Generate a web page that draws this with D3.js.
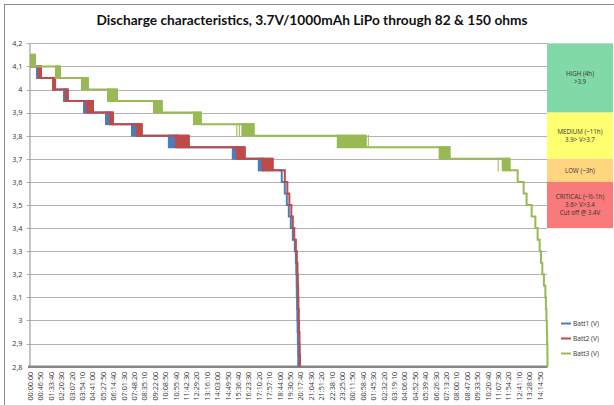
<!DOCTYPE html>
<html><head><meta charset="utf-8">
<script src="https://cdn.jsdelivr.net/npm/d3@7"></script>
<style>body{margin:0;background:#fff}svg{display:block}</style>
</head><body><svg id="c" width="614" height="405"></svg>
<script>
const title = "Discharge characteristics, 3.7V/1000mAh LiPo through 82 & 150 ohms";
const seriesNames = ["Batt1 (V)", "Batt2 (V)", "Batt3 (V)"];
const timeLabels = ["00:00:00","00:46:50","01:33:40","02:20:30","03:07:20","03:54:10","04:41:00","05:27:50","06:14:40","07:01:30","07:48:20","08:35:10","09:22:00","10:08:50","10:55:40","11:42:30","12:29:20","13:16:10","14:03:00","14:49:50","15:36:40","16:23:30","17:10:20","17:57:10","18:44:00","19:30:50","20:17:40","21:04:30","21:51:20","22:38:10","23:25:00","00:11:50","00:58:40","01:45:30","02:32:20","03:19:10","04:06:00","04:52:50","05:39:40","06:26:30","07:13:20","08:00:10","08:47:00","09:33:50","10:20:40","11:07:30","11:54:20","12:41:10","13:28:00","14:14:50"];
const labelStepSeconds = 2810;
const yTicks = [2.8,2.9,3.0,3.1,3.2,3.3,3.4,3.5,3.6,3.7,3.8,3.9,4.0,4.1,4.2];

// [hours, volts] : level reached at that time (step after)
const batt1Steps = [[0,4.10],[0.83,4.05],[1.88,4.00],[2.70,3.95],[4.35,3.90],[6.00,3.85],[8.10,3.80],[11.10,3.75],[15.60,3.70],[17.55,3.65],[18.90,3.60],[19.13,3.55],[19.28,3.50],[19.43,3.45],[19.58,3.40],[19.73,3.35],[19.88,3.30],[19.96,3.25],[19.99,3.20],[20.02,3.15],[20.03,3.10],[20.05,3.05],[20.07,3.00],[20.09,2.95],[20.11,2.90],[20.13,2.85],[20.14,2.80]];
const batt2Steps = [[0,4.10],[0.83,4.05],[1.88,4.00],[2.85,3.95],[4.73,3.90],[6.23,3.85],[8.40,3.80],[11.93,3.75],[16.13,3.70],[18.23,3.65],[19.13,3.60],[19.32,3.55],[19.47,3.50],[19.62,3.45],[19.73,3.40],[19.84,3.35],[19.96,3.30],[20.03,3.25],[20.08,3.20],[20.11,3.15],[20.13,3.10],[20.15,3.05],[20.18,3.00],[20.20,2.95],[20.23,2.90],[20.25,2.85],[20.27,2.80]];
const batt3Steps = [[0,4.15],[0.375,4.10],[2.25,4.05],[4.35,4.00],[6.53,3.95],[9.90,3.90],[12.83,3.85],[16.80,3.80],[25.21,3.75],[31.51,3.70],[36.01,3.65],[36.61,3.60],[37.06,3.55],[37.28,3.50],[37.66,3.45],[37.94,3.40],[38.11,3.35],[38.26,3.30],[38.36,3.25],[38.46,3.20],[38.58,3.15],[38.69,3.10],[38.73,3.05],[38.77,3.00],[38.80,2.95],[38.82,2.90],[38.84,2.85],[38.85,2.80]];

// [startHours, endHours, lowV, highV] : readings toggling between two levels
const batt1Flicker = [[0.45,0.83,4.05,4.10],[1.65,1.88,4.00,4.05],[2.48,2.70,3.95,4.00],[3.98,4.35,3.90,3.95],[5.63,6.00,3.85,3.90],[7.58,8.10,3.80,3.85],[10.35,11.10,3.75,3.80],[15.15,15.60,3.70,3.75],[17.10,17.55,3.65,3.70]];
const batt2Flicker = [[0.60,0.83,4.05,4.10],[1.65,1.88,4.00,4.05],[2.63,2.85,3.95,4.00],[4.20,4.73,3.90,3.95],[5.93,6.23,3.85,3.90],[7.95,8.40,3.80,3.85],[10.88,11.93,3.75,3.80],[15.45,16.13,3.70,3.75],[17.40,18.23,3.65,3.70]];
const batt3Flicker = [[0,0.375,4.10,4.15],[1.875,2.25,4.05,4.10],[3.83,4.35,4.00,4.05],[5.78,6.53,3.95,4.00],[9.23,9.90,3.90,3.95],[12.23,12.83,3.85,3.90],[15.49,15.57,3.80,3.85],[15.68,15.75,3.80,3.85],[15.87,16.80,3.80,3.85],[23.03,25.21,3.75,3.80],[25.36,25.43,3.75,3.80],[30.68,31.51,3.70,3.75],[35.11,35.16,3.65,3.70],[35.41,36.01,3.65,3.70]];

const bandTop = [4.2, 3.9, 3.7, 3.6];
const bandBottom = [3.9, 3.7, 3.6, 3.4];
const bandText = [["HIGH (4h)", ">3.9"], ["MEDIUM (~11h)", "3.9> V>3.7"], ["LOW (~3h)"], ["CRITICAL (~½-1h)", "3.6> V>3.4", "Cut off @ 3.4V"]];

const seriesColors = ["#4a7ebb", "#be4b48", "#98b954"];
const bandColors = ["#82d9a8", "#ffff70", "#ffd580", "#f87a7a"];

const svg = d3.select("#c");
const font = "'Open Sans', 'DejaVu Sans', sans-serif";
const x = d3.scaleLinear().domain([0, 38.85]).range([30, 547.5]);
const y = d3.scaleLinear().domain([2.8, 4.2]).range([366.7, 43.3]);

// outer border
svg.append("rect").attr("x", 4.5).attr("y", 4.5).attr("width", 700).attr("height", 500)
  .attr("fill", "none").attr("stroke", "#8a8a8a").attr("stroke-width", 1);

// title
svg.append("text").attr("x", 312).attr("y", 25).attr("text-anchor", "middle")
  .attr("font-family", "Lato, 'Open Sans', sans-serif").attr("font-weight", "bold").attr("font-size", 14)
  .attr("fill", "#111").attr("textLength", 431).attr("lengthAdjust", "spacingAndGlyphs").text(title);

// bands
const bands = svg.append("g");
bandTop.forEach((t, i) => {
  const y0 = y(t), y1 = y(bandBottom[i]);
  bands.append("rect").attr("x", 547).attr("y", y0).attr("width", 66).attr("height", y1 - y0).attr("fill", bandColors[i]);
  const lines = bandText[i];
  const cy = (y0 + y1) / 2;
  lines.forEach((s, j) => {
    bands.append("text").attr("x", 580).attr("y", cy + (j - (lines.length - 1) / 2) * 7.8)
      .attr("dy", "0.35em").attr("text-anchor", "middle").attr("font-family", font).attr("font-size", 6.2)
      .attr("fill", "#333").text(s);
  });
});

// gridlines
const fmt = d3.formatLocale({decimal: ",", thousands: ".", grouping: [3], currency: ["", ""]}).format("~g");
svg.append("g").selectAll("line").data(yTicks.filter(v => v > 2.8)).join("line")
  .attr("x1", 26.5).attr("x2", 547).attr("y1", d => Math.round(y(d)) + 0.5).attr("y2", d => Math.round(y(d)) + 0.5)
  .attr("stroke", "#b3b3b3").attr("stroke-width", 1);

// y axis
const yAxis = svg.append("g").attr("transform", "translate(29.5,0)")
  .call(d3.axisLeft(y).tickValues(yTicks).tickFormat(fmt).tickSize(0).tickPadding(7));
yAxis.select(".domain").attr("stroke", "#8a8a8a");
yAxis.selectAll("text").attr("font-family", font).attr("font-size", 7.3).attr("fill", "#333");

// x axis
const xAxis = svg.append("g").attr("transform", "translate(0,366.7)")
  .call(d3.axisBottom(x).tickValues(timeLabels.map((_, i) => i * labelStepSeconds / 3600))
    .tickFormat((d, i) => timeLabels[i]).tickSize(0));
xAxis.select(".domain").attr("stroke", "#858585").attr("stroke-width", 2.5).attr("d", `M28,0H547.5`);
xAxis.selectAll("text").attr("font-family", font).attr("font-size", 7.3).attr("fill", "#333")
  .attr("text-anchor", "end").attr("transform", "rotate(-90)").attr("x", -5).attr("y", 0).attr("dy", "0.35em");

// series
const line = d3.line().x(d => x(d[0])).y(d => y(d[1])).curve(d3.curveStepAfter);
const allSteps = [batt1Steps, batt2Steps, batt3Steps];
const allFlicker = [batt1Flicker, batt2Flicker, batt3Flicker];
allSteps.forEach((steps, k) => {
  const g = svg.append("g");
  g.selectAll("rect").data(allFlicker[k]).join("rect")
    .attr("x", d => x(d[0])).attr("width", d => Math.max(1, x(d[1]) - x(d[0])))
    .attr("y", d => y(d[3]) - 1).attr("height", d => y(d[2]) - y(d[3]) + 2)
    .attr("fill", seriesColors[k]);
  g.append("path").datum(steps).attr("d", line).attr("fill", "none")
    .attr("stroke", seriesColors[k]).attr("stroke-width", 2);
});

// legend
const leg = svg.append("g");
seriesNames.forEach((n, i) => {
  const ly = 323.5 + i * 15;
  leg.append("line").attr("x1", 561).attr("x2", 571).attr("y1", ly).attr("y2", ly)
    .attr("stroke", seriesColors[i]).attr("stroke-width", 2);
  leg.append("text").attr("x", 573).attr("y", ly).attr("dy", "0.35em").attr("font-family", font)
    .attr("font-size", 6.6).attr("fill", "#333").text(n);
});
</script></body></html>
